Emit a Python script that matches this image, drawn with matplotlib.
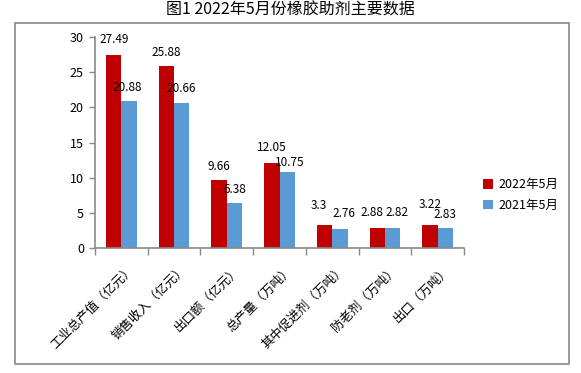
import numpy as np
import matplotlib.pyplot as plt
from matplotlib.patches import Rectangle

plt.rcParams['font.family'] = ['Noto Sans CJK SC', 'DejaVu Sans']

categories = ['工业总产值（亿元）', '销售收入（亿元）', '出口额（亿元）', '总产量（万吨）',
              '其中促进剂（万吨）', '防老剂（万吨）', '出口（万吨）']
v2022 = [27.49, 25.88, 9.66, 12.05, 3.3, 2.88, 3.22]
v2021 = [20.88, 20.66, 6.38, 10.75, 2.76, 2.82, 2.83]
labels2022 = ['27.49', '25.88', '9.66', '12.05', '3.3', '2.88', '3.22']
labels2021 = ['20.88', '20.66', '6.38', '10.75', '2.76', '2.82', '2.83']
series_names = ['2022年5月', '2021年5月']
red = '#C00000'
blue = '#5B9BD5'
gray = '#898989'

# label nudges (points) to mimic Excel's placement
dx2022 = [0, 0, 0, 0, -4, -4, 0]
dy2022 = [11, 10, 10, 11, 14, 11, 15]
dx2021 = [-1, 0, 0, 2, 3, 3, 0]
dy2021 = [10, 10, 10, 7, 11, 11, 10]

fig = plt.figure(figsize=(5.81, 3.73), dpi=100)

# chart area border
fig.patches.append(Rectangle((15 / 581, 1 - 364 / 373), (569 - 15) / 581, (364 - 23) / 373,
                             transform=fig.transFigure, fill=False, edgecolor=gray, linewidth=1.2))
fig.text(0.5, 1 - 10 / 373, '图1 2022年5月份橡胶助剂主要数据', ha='center', va='center', fontsize=11.5)

ax = fig.add_axes([95 / 581, 1 - 248 / 373, (464 - 95) / 581, (248 - 37) / 373])

x = np.arange(len(categories))
w = 0.29
ax.bar(x - w / 2, v2022, w, color=red, label=series_names[0])
ax.bar(x + w / 2, v2021, w, color=blue, label=series_names[1])

for xi, v, s, ox, oy in zip(x - w / 2, v2022, labels2022, dx2022, dy2022):
    ax.annotate(s, (xi, v), xytext=(ox, oy), textcoords='offset points', ha='center', va='center', fontsize=8.5)
for xi, v, s, ox, oy in zip(x + w / 2, v2021, labels2021, dx2021, dy2021):
    ax.annotate(s, (xi, v), xytext=(ox, oy), textcoords='offset points', ha='center', va='center', fontsize=8.5)

ax.set_xlim(-0.5, len(categories) - 0.5)
ax.set_ylim(0, 30)
ax.set_yticks(range(0, 31, 5))
ax.tick_params(axis='y', labelsize=9, color=gray, length=4, width=1, pad=4)
ax.set_xticks(np.arange(-0.5, len(categories), 1))
ax.set_xticklabels([])
ax.tick_params(axis='x', color=gray, length=5, width=1)
for sp in ['top', 'right']:
    ax.spines[sp].set_visible(False)
for sp in ['left', 'bottom']:
    ax.spines[sp].set_color(gray)
    ax.spines[sp].set_linewidth(1.2)

for xi, c in zip(x, categories):
    ax.annotate(c, (xi, 0), xytext=(8, -14), textcoords='offset points', rotation=45,
                ha='right', va='center', rotation_mode='anchor', fontsize=9)

ax.legend(loc='center left', bbox_to_anchor=(472 / 581, 1 - 195 / 373), bbox_transform=fig.transFigure,
          frameon=False, fontsize=9, handlelength=0.8, handleheight=0.8, labelspacing=0.6, handletextpad=0.4)

fig.savefig('out.png', dpi=100)
